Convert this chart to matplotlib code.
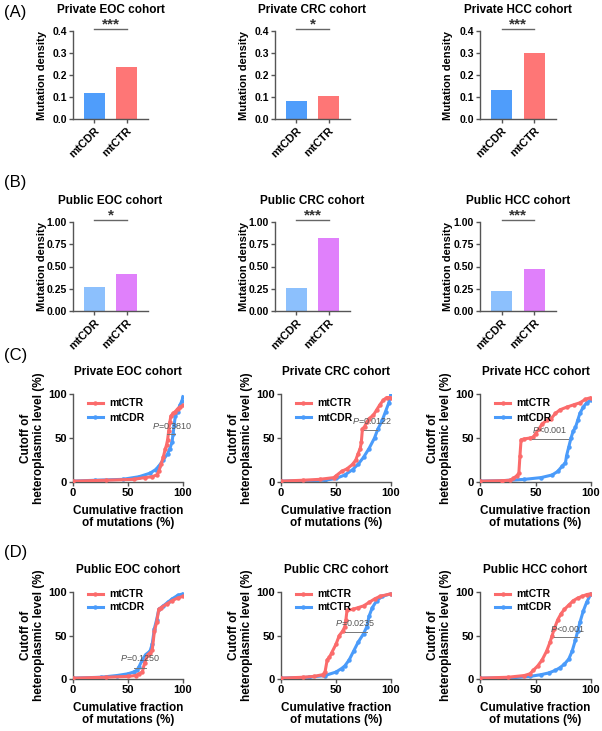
import matplotlib
matplotlib.use("Agg")
import matplotlib.pyplot as plt
import numpy as np

plt.rcParams['font.family'] = ['Liberation Sans', 'DejaVu Sans']
plt.rcParams['mathtext.fontset'] = 'custom'
plt.rcParams['mathtext.it'] = 'Liberation Sans:italic'
plt.rcParams['mathtext.rm'] = 'Liberation Sans'

W, H = 602, 731

# ---------------- data ----------------
bar_groups = ["mtCDR", "mtCTR"]

priv_titles = ["Private EOC cohort", "Private CRC cohort", "Private HCC cohort"]
priv_cdr = [0.12, 0.08, 0.13]
priv_ctr = [0.235, 0.105, 0.30]
priv_sig = ["***", "*", "***"]

pub_titles = ["Public EOC cohort", "Public CRC cohort", "Public HCC cohort"]
pub_cdr = [0.265, 0.255, 0.22]
pub_ctr = [0.42, 0.815, 0.47]
pub_sig = ["*", "***", "***"]

# cumulative curves (x = cumulative fraction %, y = cutoff %)
c1_ctr_x = [0, 30, 55, 65, 72, 76, 78, 80, 82, 84, 85, 86, 87, 88, 89, 91, 93, 95, 97, 100]
c1_ctr_y = [1, 2, 3, 5, 6, 8, 12, 20, 28, 38, 42, 48, 58, 68, 75, 78, 80, 83, 85, 87]
c1_cdr_x = [0, 20, 45, 60, 70, 75, 78, 82, 86, 88, 90, 91, 92, 93, 95, 97, 99, 100]
c1_cdr_y = [1, 2, 3, 6, 10, 14, 18, 25, 32, 38, 45, 55, 65, 75, 80, 87, 92, 97]

c2_ctr_x = [0, 20, 35, 48, 50, 55, 60, 65, 68, 70, 72, 73, 74, 76, 78, 80, 84, 87, 90, 93, 96, 100]
c2_ctr_y = [1, 2, 3, 5, 7, 12, 15, 20, 25, 32, 38, 45, 60, 63, 68, 72, 76, 82, 88, 93, 96, 96]
c2_cdr_x = [0, 20, 40, 50, 58, 65, 70, 75, 80, 85, 88, 92, 95, 98, 100]
c2_cdr_y = [1, 1.5, 2, 4, 8, 14, 20, 28, 38, 50, 60, 70, 80, 90, 100]

c3_ctr_x = [0, 20, 27, 30, 33, 35, 36, 37, 40, 45, 48, 50, 53, 56, 60, 64, 68, 72, 78, 85, 90, 95, 100]
c3_ctr_y = [1, 1.5, 2, 4, 7, 10, 30, 48, 49, 50, 51, 55, 60, 66, 70, 72, 78, 82, 85, 88, 90, 94, 96]
c3_cdr_x = [0, 20, 40, 55, 65, 70, 74, 77, 78, 80, 82, 84, 86, 88, 90, 93, 96, 100]
c3_cdr_y = [1, 1.5, 3, 5, 8, 12, 18, 22, 30, 40, 50, 58, 62, 70, 78, 85, 90, 93]

d1_ctr_x = [0, 30, 50, 57, 60, 63, 65, 68, 70, 72, 74, 76, 78, 80, 85, 90, 95, 100]
d1_ctr_y = [1, 2, 3, 4, 6, 8, 18, 28, 30, 33, 55, 65, 80, 82, 86, 90, 93, 95]
d1_cdr_x = [0, 25, 40, 50, 55, 58, 60, 63, 66, 70, 72, 74, 76, 78, 82, 86, 90, 95, 100]
d1_cdr_y = [1, 2, 4, 6, 8, 10, 14, 22, 28, 32, 40, 58, 68, 80, 84, 88, 92, 96, 98]

d2_ctr_x = [0, 20, 30, 38, 40, 42, 44, 46, 50, 53, 56, 58, 59, 60, 65, 70, 75, 80, 85, 90, 100]
d2_ctr_y = [1, 2, 3, 5, 8, 22, 25, 30, 40, 50, 55, 60, 68, 79, 80, 82, 84, 88, 92, 95, 98]
d2_cdr_x = [0, 25, 40, 50, 55, 58, 62, 66, 70, 75, 78, 80, 83, 87, 92, 100]
d2_cdr_y = [1, 2, 4, 8, 12, 15, 22, 32, 42, 52, 60, 72, 82, 90, 95, 98]

d3_ctr_x = [0, 25, 40, 45, 48, 52, 56, 60, 63, 65, 67, 70, 73, 76, 80, 84, 88, 92, 96, 100]
d3_ctr_y = [1, 2, 4, 6, 10, 15, 22, 32, 42, 50, 58, 68, 75, 80, 85, 90, 93, 95, 97, 98]
d3_cdr_x = [0, 30, 45, 55, 62, 68, 72, 76, 80, 83, 86, 88, 90, 93, 96, 100]
d3_cdr_y = [1, 1.5, 3, 5, 7, 10, 13, 17, 23, 32, 45, 55, 65, 78, 88, 98]

curve_titles_c = ["Private EOC cohort", "Private CRC cohort", "Private HCC cohort"]
curve_titles_d = ["Public EOC cohort", "Public CRC cohort", "Public HCC cohort"]
legend_c = [("mtCTR", "mtCDR")] * 3
legend_d = [("mtCTR", "mtCDR"), ("mtCTR", "mtCTR"), ("mtCTR", "mtCDR")]
pvals_c = ["=0.3810", "=0.0122", "<0.001"]
pvals_d = ["=0.1250", "=0.0235", "<0.001"]
# p annotation: text x,y ; line x0,x1,y (data units)
pann_c = [(72, 64, 85, 93, 55), (65, 69, 75, 87, 59), (47, 59, 47, 79, 49)]
pann_d = [(43, 24, 55, 66, 13), (49, 64, 58, 78, 54), (63, 57, 67, 89, 48)]

# ---------------- styles ----------------
BLUE = "#4f9dfb"
RED = "#fe7676"
LBLUE = "#8cc0fd"
MAG = "#e080fb"
LRED = "#fb6b6b"
LBLU = "#4a9bfa"
SPINE = "#555555"

fig = plt.figure(figsize=(W / 100, H / 100), dpi=100)


def add_ax(x0, x1, y0, y1):
    return fig.add_axes([x0 / W, 1 - y1 / H, (x1 - x0) / W, (y1 - y0) / H])


def style(ax, size):
    for s in ["top", "right"]:
        ax.spines[s].set_visible(False)
    for s in ["left", "bottom"]:
        ax.spines[s].set_color(SPINE)
        ax.spines[s].set_linewidth(1.0)
    ax.tick_params(colors=SPINE, labelcolor="black", length=3, width=1.0,
                   labelsize=size, pad=1.5)
    for lab in ax.get_xticklabels() + ax.get_yticklabels():
        lab.set_fontweight("bold")


bar_x = [(73, 148), (275, 350), (480, 556)]
rowA = (31, 119)
rowB = (222, 311)


def bar_panel(xr, yr, title, vals, cols, sig, ymax, yticks, ytl):
    ax = add_ax(xr[0], xr[1], yr[0], yr[1])
    ax.bar([0, 1], vals, width=0.66, color=cols)
    ax.set_xlim(-0.67, 1.67)
    ax.set_ylim(0, ymax)
    ax.set_yticks(yticks)
    ax.set_yticklabels(ytl)
    ax.set_xticks([0, 1])
    ax.set_xticklabels(bar_groups, rotation=45, ha="right", rotation_mode="anchor")
    style(ax, 7.5)
    for lab in ax.get_xticklabels():
        lab.set_fontsize(8)
    ax.set_ylabel("Mutation density", fontsize=8, fontweight="bold")
    ax.yaxis.set_label_coords(-0.35, 0.5)
    ax.set_title(title, fontsize=8.5, fontweight="bold", pad=13)
    tr = ax.get_xaxis_transform()
    ax.plot([0, 1], [1.02, 1.02], color="#666666", lw=1.0, transform=tr, clip_on=False)
    ax.text(0.5, 1.0, sig, transform=tr, ha="center", va="bottom", fontsize=11,
            fontweight="bold", color="#333333")
    return ax


for i in range(3):
    bar_panel(bar_x[i], rowA, priv_titles[i], [priv_cdr[i], priv_ctr[i]], [BLUE, RED],
              priv_sig[i], 0.4, [0, 0.1, 0.2, 0.3, 0.4], ["0.0", "0.1", "0.2", "0.3", "0.4"])
    bar_panel(bar_x[i], rowB, pub_titles[i], [pub_cdr[i], pub_ctr[i]], [LBLUE, MAG],
              pub_sig[i], 1.0, [0, 0.25, 0.5, 0.75, 1.0], ["0.00", "0.25", "0.50", "0.75", "1.00"])

curve_x = [(73, 183), (281, 391), (480, 591)]
rowC = (394, 482)
rowD = (592, 679)

curves_c = [((c1_ctr_x, c1_ctr_y), (c1_cdr_x, c1_cdr_y)),
            ((c2_ctr_x, c2_ctr_y), (c2_cdr_x, c2_cdr_y)),
            ((c3_ctr_x, c3_ctr_y), (c3_cdr_x, c3_cdr_y))]
curves_d = [((d1_ctr_x, d1_ctr_y), (d1_cdr_x, d1_cdr_y)),
            ((d2_ctr_x, d2_ctr_y), (d2_cdr_x, d2_cdr_y)),
            ((d3_ctr_x, d3_ctr_y), (d3_cdr_x, d3_cdr_y))]


def curve_panel(xr, yr, title, curves, labels, pv, pann, leg_top, leg_sp):
    ax = add_ax(xr[0], xr[1], yr[0], yr[1])
    (rx, ry), (bx, by) = curves
    ax.plot(rx, ry, color=LRED, lw=2.2, marker="o", ms=2.2, label=labels[0], zorder=3)
    ax.plot(bx, by, color=LBLU, lw=2.2, marker="o", ms=2.2, label=labels[1], zorder=2)
    ax.set_xlim(0, 100)
    ax.set_ylim(0, 100)
    ax.set_xticks([0, 50, 100])
    ax.set_yticks([0, 50, 100])
    style(ax, 8)
    ax.set_title(title, fontsize=8.5, fontweight="bold", pad=14)
    ax.set_ylabel("Cutoff of\nheteroplasmic level (%)", fontsize=8.5, fontweight="bold",
                  linespacing=1.1)
    ax.yaxis.set_label_coords(-0.255, 0.5)
    ax.set_xlabel("Cumulative fraction\nof mutations (%)", fontsize=8.5, fontweight="bold",
                  linespacing=1.05)
    ax.xaxis.set_label_coords(0.5, -0.26)
    leg = ax.legend(loc="upper left", bbox_to_anchor=(0.1, leg_top), frameon=False,
                    fontsize=7.5, handlelength=1.4, handletextpad=0.6, labelspacing=leg_sp,
                    borderaxespad=0)
    for t in leg.get_texts():
        t.set_fontweight("bold")
    tx, ty, lx0, lx1, ly = pann
    ax.text(tx, ty, r"$\mathit{P}$" + pv, fontsize=6.5, fontweight="normal", color="#555555",
            ha="left", va="center", zorder=5)
    ax.plot([lx0, lx1], [ly, ly], color="#777777", lw=0.7, zorder=5)
    return ax


for i in range(3):
    curve_panel(curve_x[i], rowC, curve_titles_c[i], curves_c[i], legend_c[i], pvals_c[i],
                pann_c[i], 1.0, 0.45)
    curve_panel(curve_x[i], rowD, curve_titles_d[i], curves_d[i], legend_d[i], pvals_d[i],
                pann_d[i], 1.08, 0.3)

for lab, y in [("(A)", 12), ("(B)", 183), ("(C)", 356), ("(D)", 552)]:
    fig.text(4 / W, 1 - y / H, lab, fontsize=12, fontweight="normal", va="center", ha="left")

fig.savefig("out.png", dpi=100)
